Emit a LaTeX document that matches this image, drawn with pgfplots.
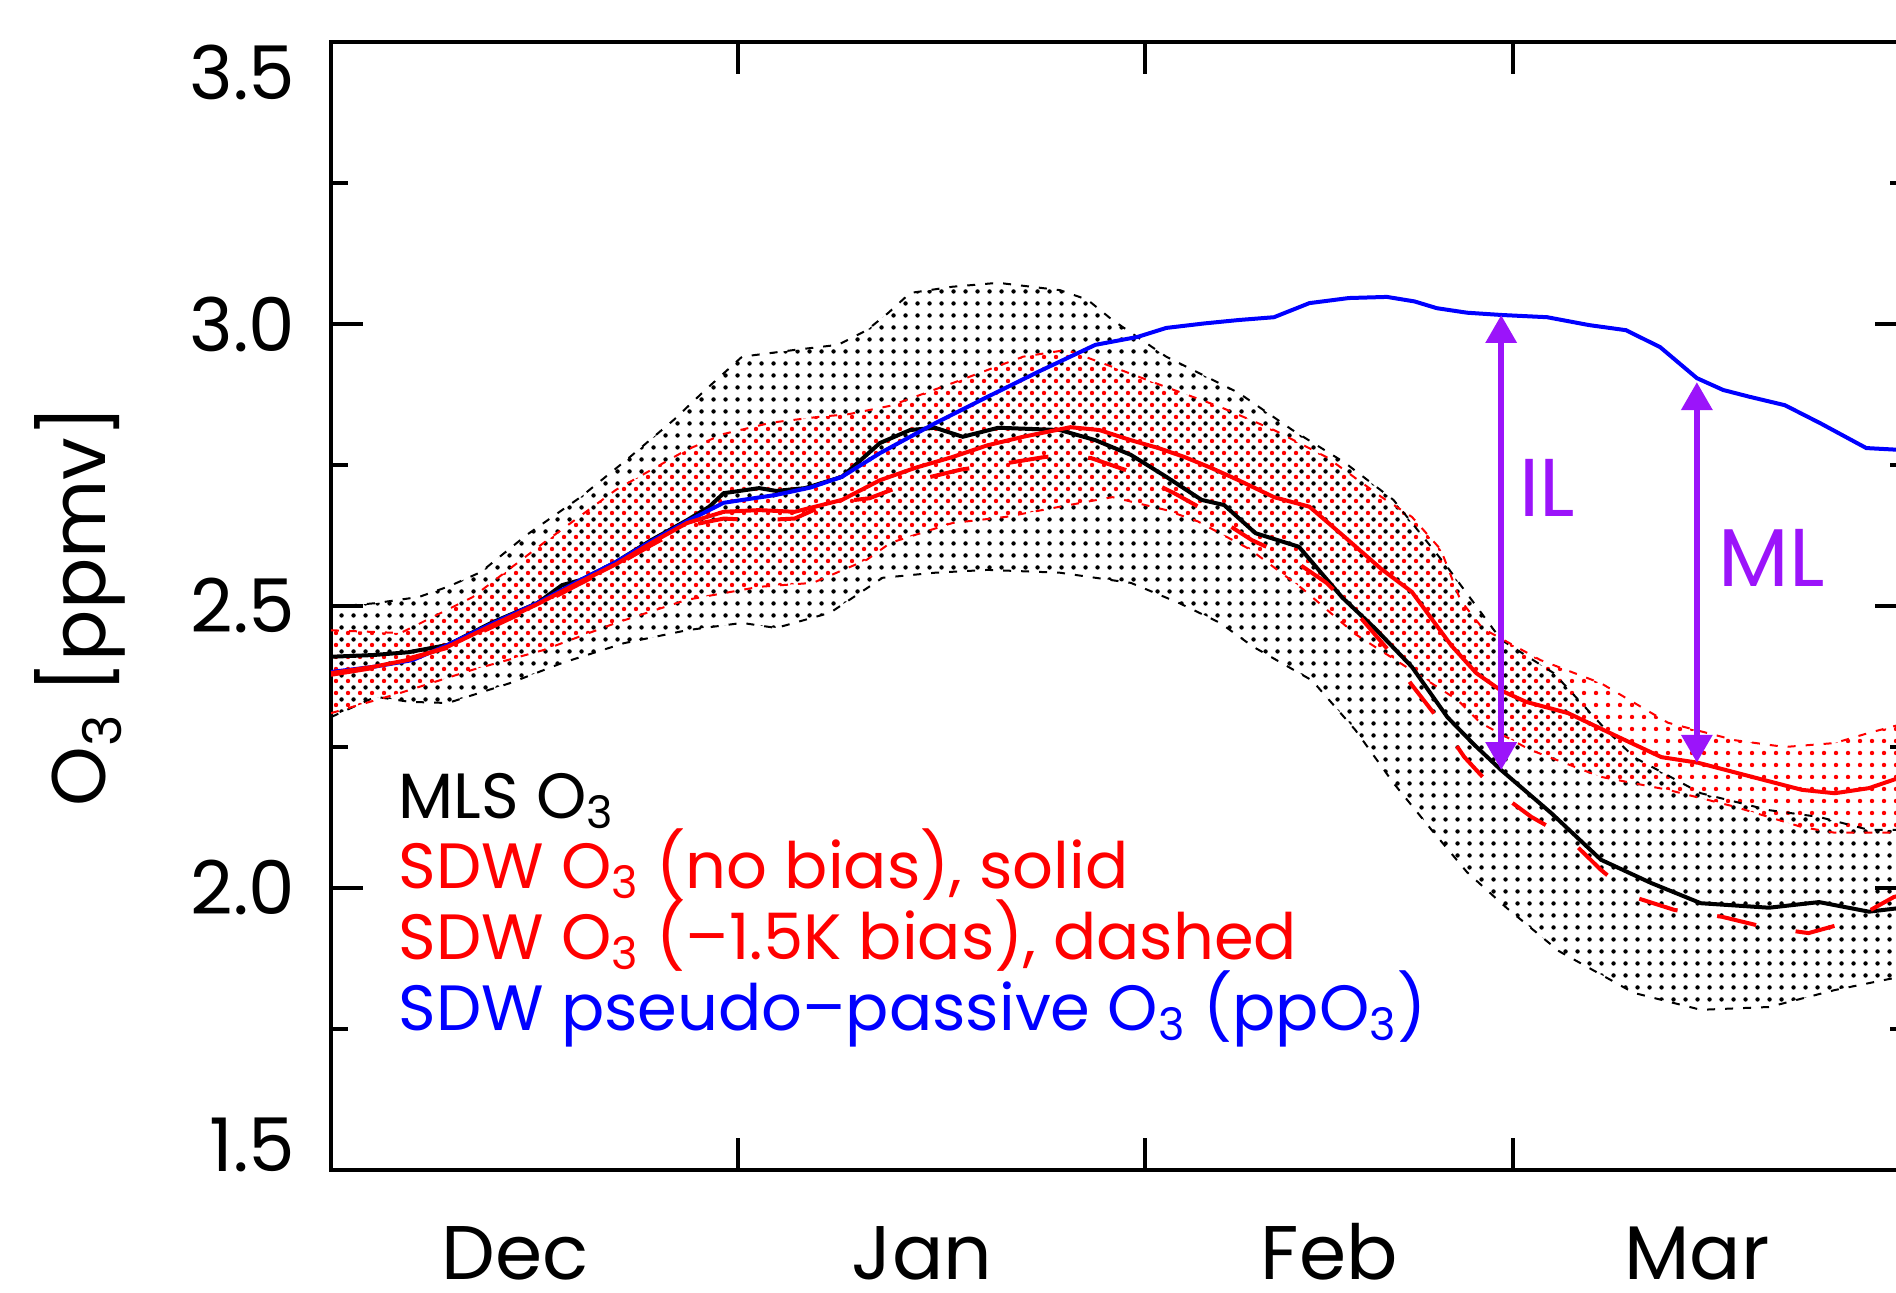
\documentclass[border=0pt]{standalone}
\usepackage{fontspec}
\setmainfont{Poppins}
\usepackage{pgfplots}
\pgfplotsset{compat=1.18}
\usepgfplotslibrary{fillbetween}
\usetikzlibrary{patterns,arrows.meta}
\pgfdeclarepatternformonly{bdots}{\pgfqpoint{0pt}{0pt}}{\pgfqpoint{3pt}{3pt}}{\pgfqpoint{3pt}{3pt}}{\pgfpathcircle{\pgfqpoint{1.5pt}{1.5pt}}{0.6pt}\pgfusepath{fill}}
\pgfdeclarepatternformonly{rdots}{\pgfqpoint{-1.5pt}{-1.5pt}}{\pgfqpoint{1.5pt}{1.5pt}}{\pgfqpoint{3pt}{3pt}}{\pgfpathcircle{\pgfqpoint{0pt}{0pt}}{0.55pt}\pgfusepath{fill}}
\definecolor{ilpurple}{RGB}{155,20,250}
\begin{document}
\begin{tikzpicture}
\begin{axis}[
  scale only axis, width=394pt, height=282pt,
  xmin=0, xmax=120, ymin=1.5, ymax=3.5,
  axis line style={line width=1.1pt},
  every tick/.style={line width=1.1pt, black},
  major tick length=8pt, minor tick length=4.25pt, tick align=inside,
  xtick={31,62,90}, xticklabels={},
  extra x ticks={14,45,76,104},
  extra x tick labels={Dec,Jan,Feb,Mar},
  extra x tick style={major tick length=0pt},
  xticklabel style={font=\fontsize{19}{19}\selectfont, anchor=base, yshift=-27.5pt, inner sep=0pt},
  ytick={1.5,2,2.5,3,3.5},
  yticklabels={\raisebox{6.3pt}[\height][\depth]{1.5},2.0,2.5,3.0,\raisebox{-7.5pt}[\height][\depth]{3.5}},
  minor ytick={1.75,2.25,2.75,3.25},
  yticklabel style={font=\fontsize{18.5}{18}\selectfont, anchor=east, inner sep=0pt, xshift=-8.75pt},
  clip=true,
]
% MLS envelope
\addplot[name path=bu, black, line width=0.5pt, dash pattern=on 2pt off 2.5pt] coordinates {
(0,2.498) (3.4,2.505) (6.7,2.516) (9,2.535) (11.4,2.560) (14.9,2.626) (19.0,2.693) (22.5,2.759) (26.1,2.830) (28.5,2.883) (31.3,2.942) (35.3,2.954) (38.6,2.963) (40.8,2.989) (42.4,3.019) (44.1,3.055) (47.3,3.066) (50.8,3.073) (55.5,3.060) (57.6,3.043) (59.5,3.007) (63.6,2.942) (69.1,2.878) (73.2,2.812) (77.2,2.754) (80.9,2.688) (85.0,2.569) (89.1,2.440) (93.1,2.381) (96.7,2.29) (99.2,2.232) (104.3,2.168) (109.5,2.138) (113.3,2.126) (117.1,2.103) (120,2.103)};
\addplot[name path=bl, black, line width=0.5pt, dash pattern=on 2pt off 2.5pt] coordinates {
(0,2.303) (3.4,2.339) (6,2.330) (8.9,2.328) (13.6,2.363) (17.6,2.399) (22.3,2.434) (27.1,2.457) (31.3,2.470) (33.9,2.461) (38.0,2.488) (42.0,2.550) (46.0,2.559) (50.0,2.564) (55.5,2.559) (60.9,2.541) (64.6,2.505) (67.7,2.470) (70.2,2.428) (74.7,2.368) (78.0,2.280) (80.9,2.186) (83.8,2.103) (86.5,2.028) (89.5,1.965) (93.5,1.888) (99.2,1.814) (104.3,1.784) (109.5,1.789) (114.5,1.819) (120,1.845)};
\addplot[pattern=bdots, pattern color=black] fill between[of=bu and bl];
% SDW envelope
\addplot[name path=ru, red, line width=0.5pt, dash pattern=on 2pt off 2.5pt] coordinates {
(0,2.457) (5.3,2.452) (10.8,2.516) (16.2,2.612) (21.7,2.706) (27.1,2.777) (29.9,2.805) (33.5,2.825) (37,2.835) (39.4,2.840) (42.6,2.855) (47.3,2.895) (52.7,2.942) (56.0,2.954) (59.5,2.924) (63.6,2.888) (67.7,2.853) (71.8,2.812) (75.8,2.764) (80.0,2.693) (82.3,2.658) (84.5,2.600) (86.0,2.510) (87.7,2.460) (92.1,2.404) (96.7,2.363) (101.8,2.293) (106.9,2.262) (110.7,2.250) (114.5,2.257) (117.1,2.275) (120,2.293)};
\addplot[name path=rl, red, line width=0.5pt, dash pattern=on 2pt off 2.5pt] coordinates {
(0,2.310) (5.3,2.346) (10.8,2.387) (16.2,2.422) (21.7,2.470) (27.1,2.511) (32.6,2.534) (36.7,2.541) (40.8,2.582) (42.6,2.612) (47.3,2.647) (51.4,2.658) (55.5,2.676) (59.5,2.693) (63.6,2.670) (66,2.65) (70,2.60) (74,2.53) (78,2.45) (82,2.39) (85.8,2.333) (87.5,2.293) (91.3,2.245) (96.7,2.197) (101.8,2.174) (106.9,2.144) (112.0,2.108) (114.5,2.098) (120,2.098)};
\addplot[pattern=rdots, pattern color=red] fill between[of=ru and rl];
% MLS O3
\addplot[black, line width=1pt] coordinates {
(0,2.410) (3.2,2.413) (5.9,2.418) (8.9,2.431) (12.2,2.470) (15.7,2.505) (17.6,2.537) (19.0,2.546) (21.7,2.578) (24.4,2.617) (27.1,2.652) (28.8,2.676) (29.9,2.700) (32.6,2.709) (33.9,2.704) (36.1,2.709) (38.9,2.729) (41.8,2.789) (44.1,2.812) (46.0,2.816) (48.1,2.800) (50.8,2.816) (55.5,2.812) (58.2,2.794) (60.9,2.768) (63.6,2.729) (66.3,2.688) (68.0,2.679) (70.4,2.629) (73.7,2.605) (77.0,2.515) (79.5,2.46) (82.3,2.392) (85.0,2.303) (87.0,2.255) (89.1,2.209) (92.9,2.133) (96.7,2.050) (100.5,2.009) (104.3,1.973) (109.5,1.965) (113.3,1.975) (117.1,1.958) (120,1.966)};
% ppO3
\addplot[blue, line width=1pt] coordinates {
(0,2.383) (3.2,2.392) (6.2,2.404) (8.9,2.431) (12.2,2.468) (15.7,2.505) (19.0,2.546) (21.7,2.578) (24.4,2.615) (27.1,2.650) (29.9,2.683) (33.9,2.697) (36.5,2.710) (38.9,2.729) (41.8,2.771) (46.0,2.824) (50.0,2.871) (54.1,2.918) (58.2,2.963) (61.4,2.977) (63.6,2.993) (66.5,3.001) (69.1,3.007) (71.8,3.012) (74.5,3.037) (77.5,3.046) (80.4,3.048) (82.5,3.040) (84.2,3.028) (86.5,3.020) (89.1,3.016) (92.6,3.012) (95.8,2.998) (98.6,2.989) (101.2,2.959) (104.0,2.904) (106,2.883) (108.0,2.871) (110.7,2.856) (113.4,2.824) (116.9,2.780) (119.3,2.777) (120,2.777)};
% SDW O3 no bias
\addplot[red, line width=1pt] coordinates {
(0,2.381) (3.2,2.392) (6,2.405) (8.9,2.428) (12.2,2.465) (15.7,2.503) (19.0,2.543) (21.7,2.574) (24.4,2.612) (27.1,2.647) (29.9,2.667) (32.6,2.670) (35.3,2.667) (38.9,2.688) (41.8,2.723) (44.5,2.745) (47.3,2.764) (50,2.785) (52.7,2.800) (56.3,2.817) (58.5,2.812) (60.9,2.794) (63,2.780) (65.0,2.764) (67,2.745) (69.1,2.723) (71.8,2.693) (74.5,2.676) (77.2,2.622) (80.0,2.565) (82.3,2.525) (85.3,2.430) (87.2,2.381) (89.1,2.350) (91,2.330) (94.2,2.310) (98.0,2.268) (101.3,2.232) (104.1,2.222) (108.2,2.197) (112.0,2.174) (114.5,2.168) (117.1,2.177) (120,2.200)};
% SDW O3 -1.5K bias
\addplot[red, line width=1pt, dash pattern=on 10pt off 10pt] coordinates {
(0,2.378) (3.2,2.390) (8.9,2.426) (12.2,2.462) (15.7,2.500) (19.0,2.540) (21.7,2.572) (24.4,2.608) (27.1,2.642) (29.9,2.655) (32.6,2.652) (35.3,2.655) (38.0,2.683) (41.0,2.691) (44.6,2.723) (48,2.742) (51.4,2.753) (54.3,2.764) (56,2.768) (57.9,2.762) (60.9,2.738) (64.2,2.700) (66.9,2.665) (70.1,2.617) (72.9,2.587) (75.8,2.541) (78,2.49) (80.5,2.422) (82.2,2.363) (84.3,2.300) (86.3,2.232) (88.6,2.174) (91.4,2.126) (94.2,2.089) (96.7,2.032) (99.2,1.984) (102.3,1.961) (105.9,1.949) (109.1,1.931) (112.5,1.920) (115.6,1.940) (119.0,1.984) (120,1.99)};
% IL and ML arrows
\addplot[ilpurple, line width=1.6pt, {Triangle[width=7.5pt,length=7pt]}-{Triangle[width=7.5pt,length=7pt]}] coordinates {(89.1,2.209) (89.1,3.016)};
\addplot[ilpurple, line width=1.6pt, {Triangle[width=7.5pt,length=7pt]}-{Triangle[width=7.5pt,length=7pt]}] coordinates {(104.0,2.222) (104.0,2.897)};
\node[anchor=base west, inner sep=0pt, text=ilpurple, font=\fontsize{20.5}{20}\selectfont] at (axis cs:90.4,2.658) {IL};
\node[anchor=base west, inner sep=0pt, text=ilpurple, font=\fontsize{20.5}{20}\selectfont] at (axis cs:105.6,2.534) {ML};
% legend text
\node[anchor=base west, inner sep=0pt, text=black, font=\fontsize{16}{16}\selectfont] at (axis cs:5.1,2.123) {MLS O\textsubscript{3}};
\node[anchor=base west, inner sep=0pt, text=red, font=\fontsize{16}{16}\selectfont] at (axis cs:5.1,1.999) {SDW O\textsubscript{3} (no bias), solid};
\node[anchor=base west, inner sep=0pt, text=red, font=\fontsize{16}{16}\selectfont] at (axis cs:5.1,1.874) {SDW O\textsubscript{3} (–1.5K bias), dashed};
\node[anchor=base west, inner sep=0pt, text=blue, font=\fontsize{16}{16}\selectfont] at (axis cs:5.1,1.748) {SDW pseudo–passive O\textsubscript{3} (ppO\textsubscript{3})};
\end{axis}
\node[rotate=90, anchor=center, font=\fontsize{19}{19}\selectfont] at (-62.75pt,141pt) {O\textsubscript{3} [ppmv]};
\pgfresetboundingbox
\useasboundingbox (-82.75pt,-30.75pt) rectangle (391.25pt,292.5pt);
\end{tikzpicture}
\end{document}
